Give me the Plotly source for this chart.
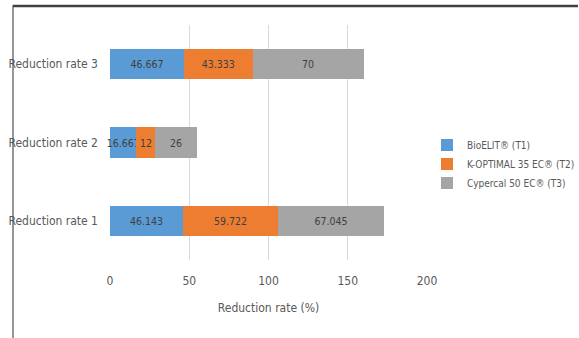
import plotly.graph_objects as go

categories = ["Reduction rate 1", "Reduction rate 2", "Reduction rate 3"]
series_names = ["BioELIT® (T1)", "K-OPTIMAL 35 EC® (T2)", "Cypercal 50 EC® (T3)"]
t1_values = [46.143, 16.667, 46.667]
t2_values = [59.722, 12, 43.333]
t3_values = [67.045, 26, 70]
x_ticks = [0, 50, 100, 150, 200]
x_title = "Reduction rate (%)"

colors = ["#5B9BD5", "#ED7D31", "#A5A5A5"]
FONT = "DejaVu Sans Condensed, Lato, sans-serif"
TXT = "#595959"

fig = go.Figure()
for name, vals, col in zip(series_names, [t1_values, t2_values, t3_values], colors):
    fig.add_trace(go.Bar(
        y=categories, x=vals, name=name, orientation="h",
        marker=dict(color=col, line=dict(width=0)),
        text=[str(v) for v in vals], textposition="inside",
        insidetextanchor="middle", constraintext="none", textangle=0,
        cliponaxis=False,
        textfont=dict(family=FONT, size=10.5, color="#404040"),
    ))

L, R, T, B = 110, 152, 25, 78
W, H = 579, 338
pw, ph = W - L - R, H - T - B

fig.update_layout(
    width=W, height=H,
    margin=dict(l=L, r=R, t=T, b=B, pad=0, autoexpand=False),
    barmode="stack", bargap=0.61,
    paper_bgcolor="white", plot_bgcolor="white",
    font=dict(family=FONT, size=12, color=TXT),
    showlegend=True,
    legend=dict(
        x=(427 - L) / pw, xanchor="left",
        y=1 - (164 - T) / ph, yanchor="middle",
        traceorder="normal",
        font=dict(family=FONT, size=10, color=TXT),
        itemwidth=30,
        bgcolor="rgba(0,0,0,0)",
    ),
    xaxis=dict(
        range=[0, 200], tickvals=x_ticks, showgrid=True, gridcolor="#D9D9D9",
        gridwidth=1, zeroline=False, showline=False, automargin=False,
        ticklabelstandoff=12,
        tickfont=dict(family=FONT, size=12, color=TXT),
        title=dict(text=x_title, font=dict(family=FONT, size=12, color=TXT), standoff=16),
    ),
    yaxis=dict(
        showgrid=False, zeroline=False, showline=False, automargin=False,
        ticklabelstandoff=11,
        tickfont=dict(family=FONT, size=12, color=TXT),
    ),
    shapes=[
        dict(type="line", xref="paper", yref="paper",
             x0=(13 - L) / pw, x1=(578 - L) / pw,
             y0=1 + (T - 6) / ph, y1=1 + (T - 6) / ph,
             line=dict(color="#404040", width=2.5), layer="above"),
        dict(type="line", xref="paper", yref="paper",
             x0=(13 - L) / pw, x1=(13 - L) / pw,
             y0=1 + (T - 5) / ph, y1=-B / ph,
             line=dict(color="#505050", width=1.2)),
    ],
)

fig.write_html("out.html")
